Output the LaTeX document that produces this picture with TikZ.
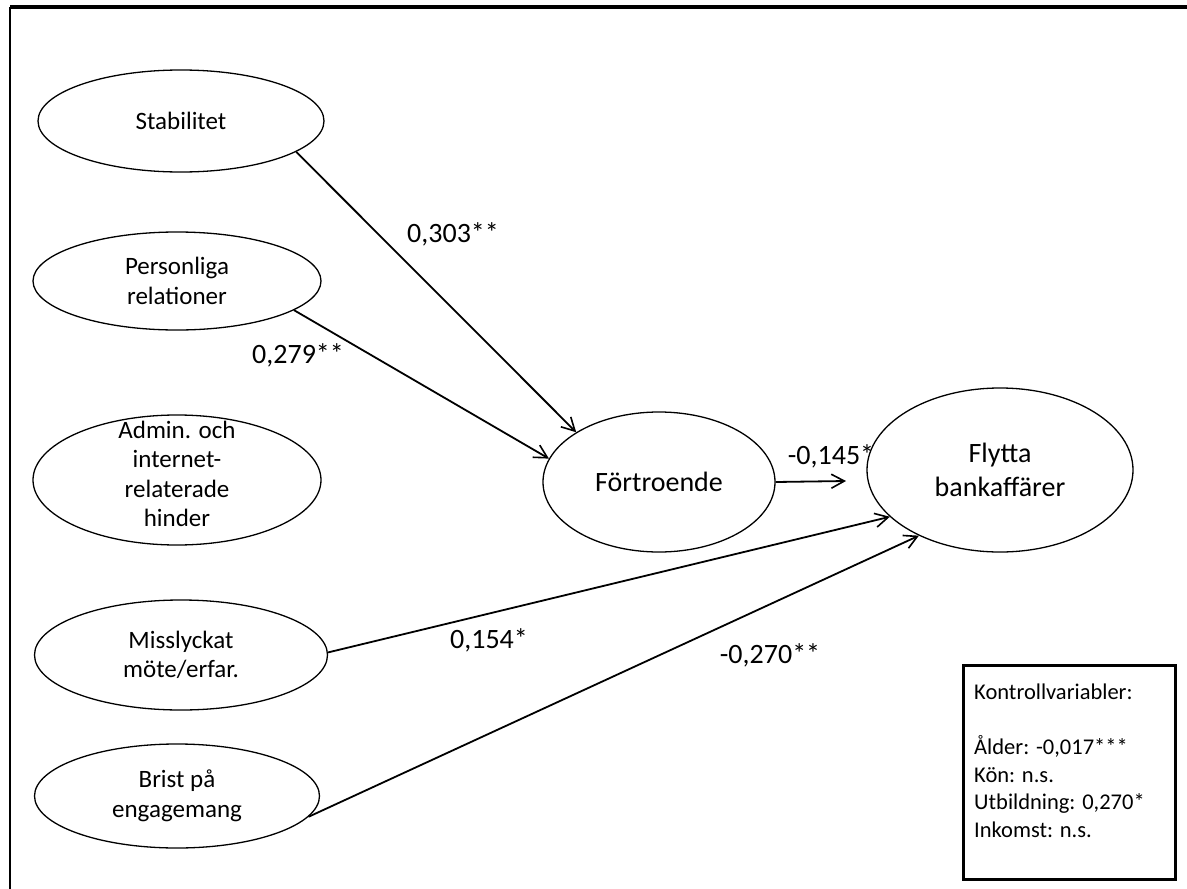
\documentclass[tikz,border=0pt]{standalone}
\usepackage{fontspec}
\setmainfont{Carlito}
\usetikzlibrary{shapes.geometric,arrows.meta}
\begin{document}
\begin{tikzpicture}[x=1pt,y=-1pt,
  bubble/.style={draw, ellipse, inner sep=0pt, line width=1.3pt},
  small/.style={font=\fontsize{25}{29.5}\selectfont, align=center},
  large/.style={font=\fontsize{28}{34}\selectfont, align=center},
  coef/.style={font=\fontsize{28}{34}\selectfont, inner sep=0pt},
  link/.style={line width=1.8pt, -{Straight Barb[length=13pt,width=14pt,line width=1.6pt]}},
]
\useasboundingbox (0,0) rectangle (1187,889);
% outer frame
\draw[line width=3.5pt] (10,7) -- (1187,7);
\draw[line width=1.3pt] (10,7) -- (10,889);

% latent constructs
\node[bubble, small, minimum width=286, minimum height=102] (stab) at (181,121) {Stabilitet};
\node[bubble, small, minimum width=288, minimum height=98] (pers) at (177,281) {Personliga\\relationer};
\node[bubble, minimum width=288, minimum height=130] (adm) at (177,480) {};
\node[small, inner sep=0pt] (admtxt) at (177,474) {Admin. och\\internet-\\relaterade\\hinder};
\node[bubble, small, minimum width=293, minimum height=110] (miss) at (181,655) {Misslyckat\\möte/erfar.};
\node[bubble, small, minimum width=285, minimum height=104] (brist) at (177,796) {Brist på\\engagemang};
\node[bubble, large, minimum width=232, minimum height=140] (fort) at (659,482) {Förtroende};
\node[bubble, large, minimum width=266, minimum height=164] (flyt) at (1000,470) {Flytta\\bankaffärer};
\coordinate (fx) at (846,481);

% paths
\draw[link] (stab.-15) -- (fort.149);
\draw[link] (pers.-14) -- (fort.168);
\draw[link] (fort.east) -- (fx);
\draw[link] (miss.1) -- (flyt.203);
\draw[link] (brist.-9) -- (flyt.219);

% coefficients
\node[coef] (c1) at (453,234) {0,303**};
\node[coef] (c2) at (298,355) {0,279**};
\node[coef] (c3) at (831,456) {-0,145*};
\node[coef] (c4) at (489,640) {0,154*};
\node[coef] (c5) at (770,655) {-0,270**};

% control variables
\node[draw, line width=3pt, minimum width=212, minimum height=214, anchor=north west, inner sep=0pt] (ctrl) at (962,664) {};
\node[anchor=north west, font=\fontsize{22.5}{27.5}\selectfont, align=left, inner sep=0pt] (ctrltxt) at (974,684)
  {Kontrollvariabler:\\[27.5pt]Ålder: -0,017***\\Kön: n.s.\\Utbildning: 0,270*\\Inkomst: n.s.};
\end{tikzpicture}
\end{document}
